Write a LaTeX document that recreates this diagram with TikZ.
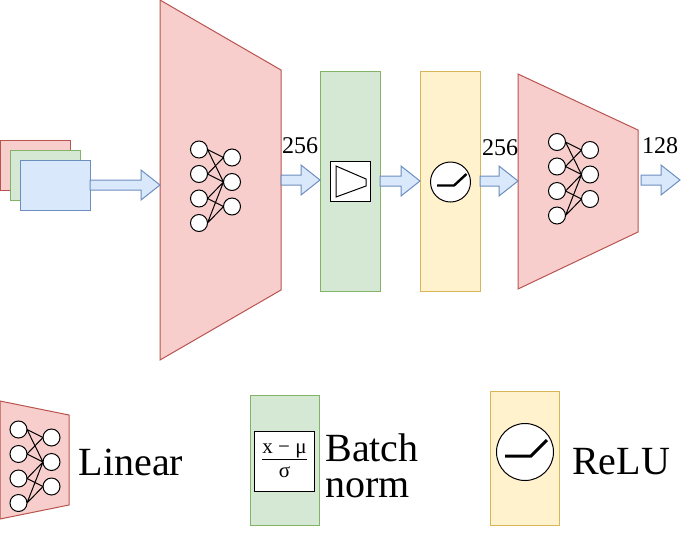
\documentclass[tikz,border=0pt]{standalone}
\usepackage{fontspec}
\setmainfont{Liberation Serif}
\usetikzlibrary{calc}
\definecolor{redfill}{HTML}{F8CECC}
\definecolor{redline}{HTML}{B85450}
\definecolor{greenfill}{HTML}{D5E8D4}
\definecolor{greenline}{HTML}{82B366}
\definecolor{bluefill}{HTML}{DAE8FC}
\definecolor{blueline}{HTML}{6C8EBF}
\definecolor{yellowfill}{HTML}{FFF2CC}
\definecolor{yellowline}{HTML}{D6B656}
\tikzset{
  layer/.style={draw,inner sep=0pt,outer sep=0pt},
  linear/.style={inner sep=0pt,outer sep=0pt},
  lineartrap/.style={draw=redline,fill=redfill},
  norm/.style={layer,draw=greenline,fill=greenfill,minimum width=60pt,minimum height=220pt},
  act/.style={layer,draw=yellowline,fill=yellowfill,minimum width=60pt,minimum height=220pt},
  unit/.style={circle,draw,fill=white,inner sep=0pt,outer sep=0pt,minimum size=17pt},
  sizelabel/.style={font=\fontsize{24}{24}\selectfont},
  legendlabel/.style={font=\fontsize{40}{36}\selectfont,align=left},
  blockarrow/.style={draw=blueline,fill=bluefill,to path={let \p1=(\tikztostart),\p2=(\tikztotarget) in
    (\x1,\y1-5pt) -- (\x2-19pt,\y1-5pt) -- (\x2-19pt,\y1-15pt) -- (\x2,\y1) --
    (\x2-19pt,\y1+15pt) -- (\x2-19pt,\y1+5pt) -- (\x1,\y1+5pt) -- cycle}},
  pics/mlp/.style={code={
    \node[unit] (-l1) at (0,0) {};
    \node[unit] (-l2) at (0,24.5) {};
    \node[unit] (-l3) at (0,49) {};
    \node[unit] (-l4) at (0,73.5) {};
    \node[unit] (-r1) at (33,8) {};
    \node[unit] (-r2) at (33,32.5) {};
    \node[unit] (-r3) at (33,57) {};
    \draw (-l1.east) -- (-r1.west) (-l1.east) -- (-r2.west) (-l2.east) -- (-r1.west) (-l2.east) -- (-r2.west);
    \draw (-l3.east) -- (-r2.west) (-l3.east) -- (-r3.west) (-l4.east) -- (-r2.west) (-l4.east) -- (-r3.west);
  }}
}
\begin{document}
\begin{tikzpicture}[x=1pt,y=-1pt,line width=1pt]
\useasboundingbox (0,0) rectangle (691,542);
% input stack
\node[layer,draw=redline,fill=redfill,minimum width=70pt,minimum height=50pt] (inr) at (35,165) {};
\node[layer,draw=greenline,fill=greenfill,minimum width=70pt,minimum height=50pt] (ing) at (45,175) {};
\node[layer,draw=blueline,fill=bluefill,minimum width=70pt,minimum height=50pt] (inb) at (55,185) {};
% main row
\node[linear,minimum width=121pt,minimum height=360pt] (lina) at (220.5,180) {};
\draw[lineartrap] (lina.north west) -- ($(lina.north east)+(0,70)$) -- ($(lina.south east)+(0,-70)$) -- (lina.south west) -- cycle;
\pic (neta) at (199,149.5) {mlp};
\node[norm] (bn) at (350,181) {};
\node[layer,fill=white,minimum size=40pt] (bnbox) at (350,181) {};
\draw (336,166) -- (366,179) -- (366,186) -- (336,197) -- cycle;
\node[act] (rl) at (450,181) {};
\node[unit,minimum size=40pt] (rlc) at (450.5,182) {};
\draw[line width=2.4pt] (437,185.5) -- (454,185.5) -- (466.5,174);
\node[linear,minimum width=120pt,minimum height=215pt] (linb) at (578,181.5) {};
\draw[lineartrap] (linb.north west) -- ($(linb.north east)+(0,56)$) -- ($(linb.south east)+(0,-57)$) -- (linb.south west) -- cycle;
\pic (netb) at (557,142) {mlp};
\coordinate (outa) at (641,180);
\coordinate (outb) at (680,180);
\draw[blockarrow] (inb.east) to (lina.west |- inb.east);
\draw[blockarrow] (lina.east) to (bn.west);
\draw[blockarrow] (bn.east) to (rl.west);
\draw[blockarrow] (rl.east) to (linb.west);
\draw[blockarrow] (outa) to (outb);
\node[sizelabel] (sa) at (300,146) {256};
\node[sizelabel] (sb) at (500,148) {256};
\node[sizelabel] (sc) at (660,146) {128};
% legend
\node[linear,minimum width=69pt,minimum height=118pt] (lgl) at (34.5,460) {};
\draw[lineartrap] (lgl.north west) -- ($(lgl.north east)+(0,14)$) -- ($(lgl.south east)+(0,-14)$) -- (lgl.south west) -- cycle;
\pic (netc) at (18.5,429.5) {mlp};
\node[legendlabel,anchor=base] (lgltxt) at (131,475) {Linear};
\node[norm,minimum width=69pt,minimum height=130pt] (lgb) at (284.5,460) {};
\node[layer,fill=white,minimum size=60pt,font=\fontsize{21}{24}\selectfont,align=center] (lgbox) at (284.5,461) {\underline{x − μ}\\σ};
\node[legendlabel] (lgbtxt) at (372,465.5) {Batch\\norm};
\node[act,minimum width=69pt,minimum height=134pt] (lgr) at (525,458) {};
\node[unit,minimum size=57pt] (lgrc) at (525,452) {};
\draw[line width=3pt] (505,456) -- (531,456) -- (547,440);
\node[legendlabel,anchor=base] (lgrtxt) at (621,474) {ReLU};
\end{tikzpicture}
\end{document}
